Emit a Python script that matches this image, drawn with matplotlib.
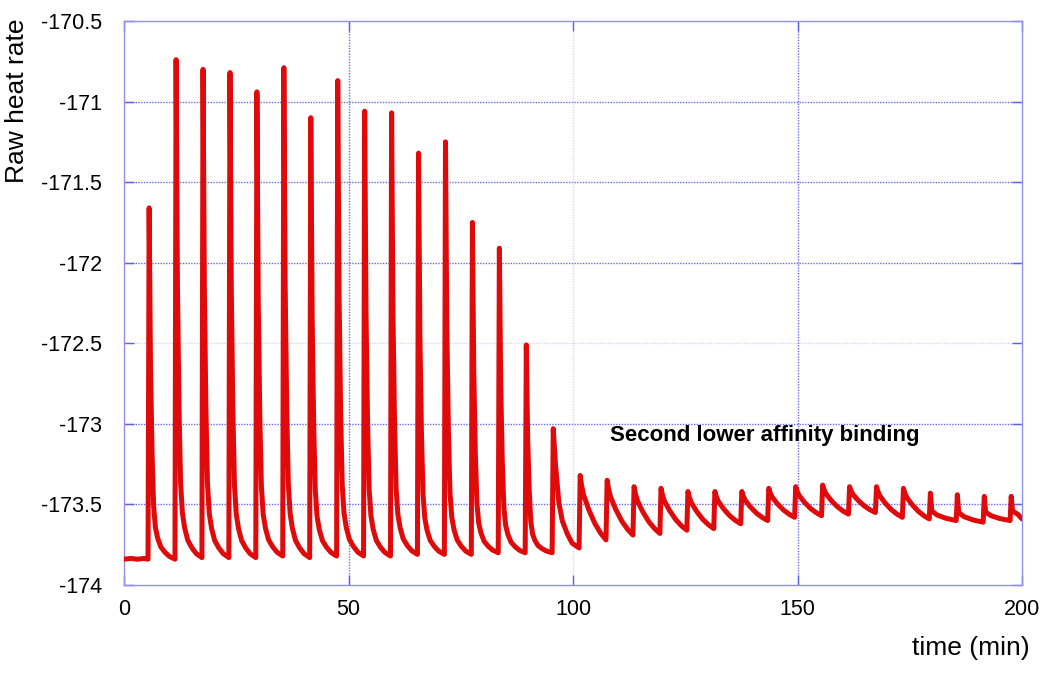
import numpy as np
import matplotlib.pyplot as plt

plt.rcParams['font.family'] = ['Liberation Sans', 'DejaVu Sans']

# injection times (min), peak tops and the level just before each injection
inj_time = [5.6, 11.6, 17.6, 23.6, 29.6, 35.6, 41.6, 47.6, 53.6, 59.6, 65.6,
            71.6, 77.6, 83.6, 89.6, 95.6, 101.6, 107.6, 113.6, 119.6, 125.6,
            131.6, 137.6, 143.6, 149.6, 155.6, 161.6, 167.6, 173.6, 179.6,
            185.6, 191.6, 197.6]
peak_top = [-171.66, -170.74, -170.80, -170.82, -170.94, -170.79, -171.10,
            -170.87, -171.06, -171.07, -171.32, -171.25, -171.75, -171.91,
            -172.51, -173.03, -173.32, -173.35, -173.39, -173.40, -173.42,
            -173.42, -173.42, -173.40, -173.39, -173.38, -173.39, -173.39,
            -173.40, -173.43, -173.44, -173.45, -173.45]
base_before = [-173.84, -173.84, -173.83, -173.83, -173.83, -173.82, -173.83,
               -173.82, -173.82, -173.82, -173.81, -173.81, -173.81, -173.80,
               -173.80, -173.80, -173.77, -173.72, -173.69, -173.68, -173.66,
               -173.65, -173.62, -173.60, -173.58, -173.57, -173.56, -173.55,
               -173.58, -173.59, -173.60, -173.61, -173.60]
end_time = 200.0
end_val = -173.59

# pre-injection baseline
start_t = [0.0, 1.5, 3.0, 4.5, 5.35]
start_v = [-173.84, -173.835, -173.84, -173.835, -173.84]

# peak shapes: minutes after the top, fraction of height left
fast_off = [0, 0.3, 0.65, 1.0, 1.4, 1.9, 2.6, 3.5, 4.5, 5.75]
fast_frac = [1, 0.55, 0.3, 0.15, 0.09, 0.06, 0.035, 0.02, 0.008, 0]
mid_off = [0, 0.5, 1.25, 2.0, 3.1, 4.2, 5.75]
mid_frac = [1, 0.70, 0.38, 0.23, 0.12, 0.04, 0]
slow_off = [0, 0.3, 0.75, 1.9, 3.3, 4.6, 5.75]
slow_frac = [1, 0.85, 0.70, 0.47, 0.25, 0.1, 0]
spike_off = [0, 0.3, 1.5, 3.5, 5.75]
spike_frac = [1, 0.35, 0.2, 0.08, 0]
shape = ['fast'] * 15 + ['mid'] + ['slow'] * 13 + ['spike'] * 4

profiles = {'fast': (fast_off, fast_frac), 'mid': (mid_off, mid_frac),
            'slow': (slow_off, slow_frac), 'spike': (spike_off, spike_frac)}

t = list(start_t)
v = list(start_v)
for k in range(len(inj_time)):
    tk, pk = inj_time[k], peak_top[k]
    b_next = base_before[k + 1] if k + 1 < len(inj_time) else end_val
    off, frac = profiles[shape[k]]
    t.append(tk - 0.25)
    v.append(base_before[k])
    for o, f in zip(off, frac):
        if tk + o >= end_time:
            break
        t.append(tk + o)
        v.append(b_next + f * (pk - b_next))
t.append(end_time)
v.append(end_val)

fig = plt.figure(figsize=(10.5, 6.74), dpi=100)
ax = fig.add_axes([124 / 1050, 89 / 674, 898 / 1050, 564 / 674])

ax.plot(t, v, color='#e00a0a', lw=3.6, solid_capstyle='round',
        solid_joinstyle='round', zorder=3)

ax.set_xlim(0, 200)
ax.set_ylim(-174, -170.5)
ax.set_xticks([0, 50, 100, 150, 200])
ax.set_yticks(np.arange(-174, -170.49, 0.5))
ax.set_yticklabels(['-174', '-173.5', '-173', '-172.5', '-172', '-171.5',
                    '-171', '-170.5'])

for y in np.arange(-173.5, -170.6, 0.5):
    c = '#d4d4f4' if abs(y + 172.5) < 1e-6 else '#6a6ae8'
    ax.axhline(y, color=c, lw=1, ls=(0, (1, 1)), zorder=1)
for x in [50, 100, 150]:
    c = '#d4d4f4' if x == 100 else '#6a6ae8'
    ax.axvline(x, color=c, lw=1, ls=(0, (1, 1)), zorder=1)

for s in ax.spines.values():
    s.set_color('#9090f0')
    s.set_linewidth(1)
ax.tick_params(direction='in', length=7, width=1, color='#6060e0',
               top=True, right=True, labelsize=15.5)
ax.tick_params(axis='y', pad=16)
ax.tick_params(axis='x', pad=10)

ax.text(108.2, -173.07, 'Second lower affinity binding', fontsize=16,
        fontweight='bold', va='center', ha='left')

fig.text(1030 / 1050, 1 - 648 / 674, 'time (min)', fontsize=19,
         ha='right', va='center')
fig.text(17 / 1050, 1 - 101 / 674, 'Raw heat rate', fontsize=19,
         rotation=90, ha='center', va='center')

fig.savefig('out.png', dpi=100)
